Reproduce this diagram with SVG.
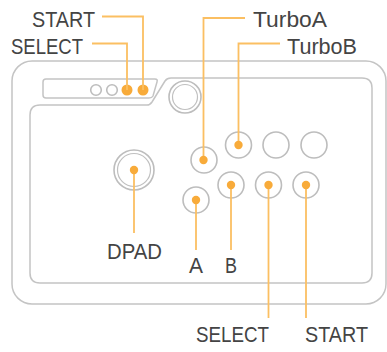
<svg xmlns="http://www.w3.org/2000/svg" width="387" height="352" viewBox="0 0 387 352">
<style>
.body{fill:none;stroke:#c4c4c4;stroke-width:1.5}
.btn{fill:#fff;stroke:#bdbdbd;stroke-width:1.6}
.ring{fill:none;stroke:#c0c0c0;stroke-width:1.2}
.dot{fill:#f8ab3a}
.lead{fill:none;stroke:#fbbf62;stroke-width:1.8}
.lbl{font-family:"Liberation Sans",Arial,sans-serif;font-size:22px;fill:#444}
</style>
<rect width="387" height="352" fill="#fff"/>
<g id="body">
<rect class="body" x="12" y="61" width="374" height="243" rx="20"/>
<path class="body" d="M30,115 Q30,105 40,105 H147 Q150,105 152,102 L165,81 Q167,78 171,78 H362 Q372,78 372,88 V273 Q372,283 362,283 H40 Q30,283 30,273 Z"/>
<path class="body" d="M46,79 H155 Q158,79 157,82 L153,96 Q152,98 149,98 H46 Q43,98 43,95 V82 Q43,79 46,79 Z"/>
</g>
<g id="home">
<circle class="btn" cx="185" cy="97" r="16"/>
<circle class="ring" cx="185" cy="97" r="12.5"/>
</g>
<g id="strip-btn1"><circle class="btn" cx="96" cy="90" r="5.3"/></g>
<g id="strip-btn2"><circle class="btn" cx="112" cy="90" r="5.3"/></g>
<g id="strip-select"><circle class="dot" cx="127" cy="90" r="5.5"/></g>
<g id="strip-start"><circle class="dot" cx="143" cy="90" r="5.5"/></g>
<g id="dpad">
<circle class="btn" cx="134" cy="170" r="20"/>
<circle class="ring" cx="134" cy="170" r="16.5"/>
</g>
<g id="btn-turboa"><circle class="btn" cx="204" cy="160" r="13"/></g>
<g id="btn-turbob"><circle class="btn" cx="238.5" cy="145" r="13"/></g>
<g id="btn-x"><circle class="btn" cx="276" cy="145" r="13"/></g>
<g id="btn-y"><circle class="btn" cx="314" cy="145" r="13"/></g>
<g id="btn-a"><circle class="btn" cx="196" cy="200" r="13"/></g>
<g id="btn-b"><circle class="btn" cx="231" cy="185" r="13"/></g>
<g id="btn-select"><circle class="btn" cx="268.5" cy="185" r="13"/></g>
<g id="btn-start"><circle class="btn" cx="306" cy="185" r="13"/></g>
<g id="connectors">
<path class="lead" d="M102,16.5 H143 V90"/>
<path class="lead" d="M92,43.5 H127 V90"/>
<path class="lead" d="M245,18 H203.5 V160"/>
<path class="lead" d="M280,43.5 H238.5 V145"/>
<path class="lead" d="M134,170 V233"/>
<path class="lead" d="M196,200 V250"/>
<path class="lead" d="M231,185 V250"/>
<path class="lead" d="M268.5,185 V318"/>
<path class="lead" d="M306,185 V318"/>
</g>
<g id="dots">
<circle class="dot" cx="134" cy="170" r="4.2"/>
<circle class="dot" cx="203.5" cy="160" r="4.2"/>
<circle class="dot" cx="238.5" cy="145" r="4.2"/>
<circle class="dot" cx="196" cy="200" r="4.2"/>
<circle class="dot" cx="231" cy="185" r="4.2"/>
<circle class="dot" cx="268.5" cy="185" r="4.2"/>
<circle class="dot" cx="306" cy="185" r="4.2"/>
</g>
<g id="labels">
<text class="lbl" x="32" y="26.5" textLength="63" lengthAdjust="spacingAndGlyphs">START</text>
<text class="lbl" x="11" y="53.5" textLength="72" lengthAdjust="spacingAndGlyphs">SELECT</text>
<text class="lbl" x="253" y="26.5" textLength="74" lengthAdjust="spacingAndGlyphs">TurboA</text>
<text class="lbl" x="287" y="53.5" textLength="70" lengthAdjust="spacingAndGlyphs">TurboB</text>
<text class="lbl" x="107" y="259" textLength="55" lengthAdjust="spacingAndGlyphs">DPAD</text>
<text class="lbl" x="189" y="273" textLength="14" lengthAdjust="spacingAndGlyphs">A</text>
<text class="lbl" x="225" y="273" textLength="12" lengthAdjust="spacingAndGlyphs">B</text>
<text class="lbl" x="196" y="342" textLength="73" lengthAdjust="spacingAndGlyphs">SELECT</text>
<text class="lbl" x="305" y="342" textLength="63" lengthAdjust="spacingAndGlyphs">START</text>
</g>
</svg>
